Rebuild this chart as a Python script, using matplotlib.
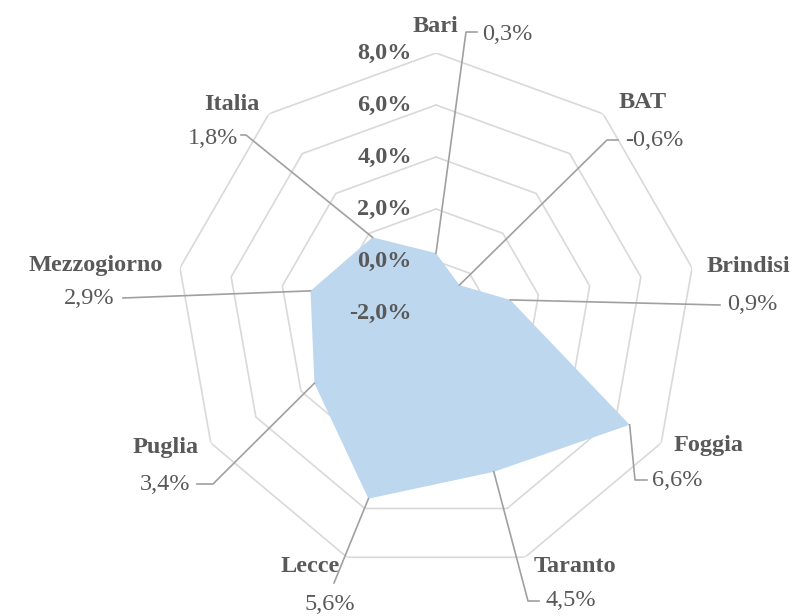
import numpy as np
import matplotlib.pyplot as plt
from matplotlib.lines import Line2D
from matplotlib.transforms import IdentityTransform

categories = ['Bari', 'BAT', 'Brindisi', 'Foggia', 'Taranto', 'Lecce',
              'Puglia', 'Mezzogiorno', 'Italia']
values = [0.3, -0.6, 0.9, 6.6, 4.5, 5.6, 3.4, 2.9, 1.8]
value_labels = ['0,3%', '-0,6%', '0,9%', '6,6%', '4,5%', '5,6%',
                '3,4%', '2,9%', '1,8%']
rings = [-2, 0, 2, 4, 6, 8]
ring_labels = ['-2,0%', '0,0%', '2,0%', '4,0%', '6,0%', '8,0%']

W, H = 796, 616
plt.rcParams['font.family'] = ['Liberation Serif', 'DejaVu Serif']
txt_col = '#595959'
grid_col = '#D9D9D9'
lead_col = '#A0A0A0'
fill_col = '#BDD7EE'
fs = 17.5

fig = plt.figure(figsize=(W / 100, H / 100), dpi=100)
# square polar axes centred at (436, 313) with radius 260 px
cx, cy, R = 436, 313, 260
ax = fig.add_axes([(cx - R) / W, (H - cy - R) / H, 2 * R / W, 2 * R / H],
                  projection='polar')
ax.set_theta_zero_location('N')
ax.set_theta_direction(-1)
ax.set_ylim(-2, 8)
ax.grid(False)
ax.set_xticks([])
ax.set_yticks([])
ax.spines['polar'].set_visible(False)
ax.patch.set_alpha(0)

n = len(categories)
theta = np.arange(n) * 2 * np.pi / n
theta_c = np.append(theta, theta[0])

for r in rings:
    ax.plot(theta_c, [r] * (n + 1), color=grid_col, lw=1.2, zorder=1)

vals_c = np.append(values, values[0])
ax.fill(theta_c, vals_c, color=fill_col, zorder=2, lw=0)

for r, lab in zip(rings, ring_labels):
    ax.annotate(lab, xy=(0, r), xytext=(-24, 0), textcoords='offset pixels',
                ha='right', va='center', fontsize=fs, fontweight='bold',
                color=txt_col, zorder=5)

# label layout (top-down pixel coords)
# name: (x, y, ha); value: (x, y, ha); leader elbow points
layout = {
    'Bari':        ((458, 27, 'right'), (482, 34, 'left'), [(466, 32), (477, 32)]),
    'BAT':         ((643, 103, 'center'), (625, 140, 'left'), [(607, 140), (618, 140)]),
    'Brindisi':    ((748, 266, 'center'), (727, 305, 'left'), [(720, 305)]),
    'Foggia':      ((709, 446, 'center'), (652, 481, 'left'), [(635, 480), (647, 480)]),
    'Taranto':     ((575, 566, 'center'), (545, 601, 'left'), [(528, 601), (539, 601)]),
    'Lecce':       ((310, 566, 'center'), (330, 604, 'center'), [(334, 583)]),
    'Puglia':      ((166, 447, 'center'), (190, 484, 'right'), [(213, 484), (197, 484)]),
    'Mezzogiorno': ((96, 265, 'center'), (115, 298, 'right'), [(123, 298)]),
    'Italia':      ((232, 104, 'center'), (238, 138, 'right'), [(246, 135), (241, 135)]),
}

fig.canvas.draw()
for i, cat in enumerate(categories):
    (nx, ny, nha), (vx, vy, vha), pts = layout[cat]
    fig.text(nx / W, 1 - ny / H, cat, ha=nha, va='center', fontsize=fs,
             fontweight='bold', color=txt_col)
    fig.text(vx / W, 1 - vy / H, value_labels[i], ha=vha, va='center',
             fontsize=fs, color=txt_col)
    px, py = ax.transData.transform((theta[i], values[i]))
    xs = [px] + [p[0] for p in pts]
    ys = [py] + [H - p[1] for p in pts]
    fig.add_artist(Line2D(xs, ys, transform=IdentityTransform(),
                          color=lead_col, lw=1.2, zorder=6))

fig.savefig('out.png', dpi=100)
